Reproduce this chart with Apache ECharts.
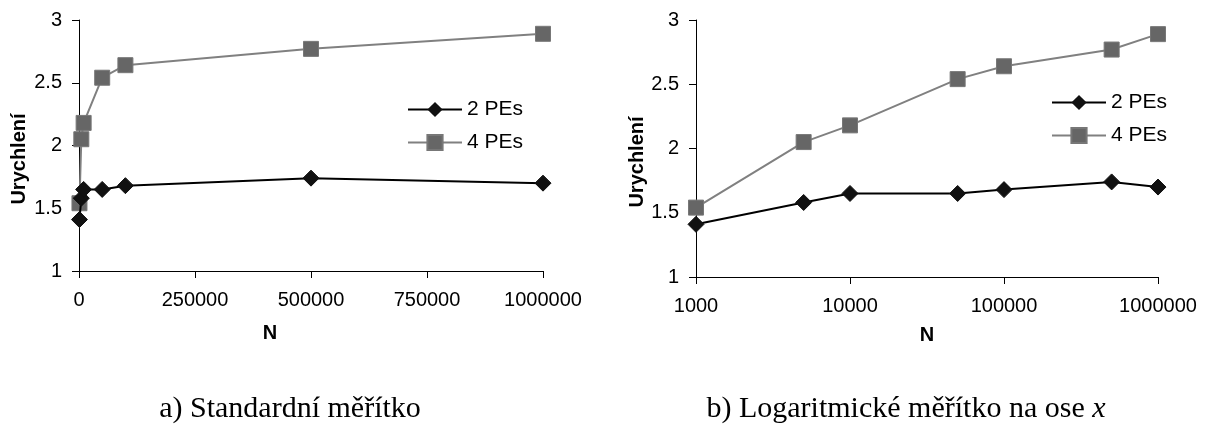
<!DOCTYPE html>
<html>
<head>
<meta charset="utf-8">
<script src="https://cdn.jsdelivr.net/npm/echarts@6/dist/echarts.min.js"></script>
<style>html,body{margin:0;padding:0;background:#fff}#c{width:1208px;height:425px}</style>
</head>
<body>
<div id="c"></div>
<script>
const N = [1000, 5000, 10000, 50000, 100000, 500000, 1000000];
const pe2 = [1.41, 1.58, 1.65, 1.65, 1.68, 1.74, 1.70];
const pe4 = [1.54, 2.05, 2.18, 2.54, 2.64, 2.77, 2.89];
const seriesNames = ['2 PEs', '4 PEs'];
const yTitle = 'Urychlení';
const xTitle = 'N';
const captionA = 'a) Standardní měřítko';
const captionB = 'b) Logaritmické měřítko na ose ';
const captionBVar = 'x';

const pairs = (ys) => N.map((n, i) => [n, ys[i]]);
const FONT = 'Liberation Sans, Arial, sans-serif';
const SERIF = 'Liberation Serif, Times New Roman, serif';
const axisLineStyle = { color: '#000', width: 1 };
const plain = (v) => String(v);

const yAxisCommon = (gap) => ({
  type: 'value', min: 1, max: 3, interval: 0.5,
  name: yTitle, nameLocation: 'middle', nameGap: gap,
  nameTextStyle: { fontFamily: FONT, fontSize: 20, fontWeight: 'bold', color: '#000', padding: [0, 27, 0, 0] },
  axisLine: { show: true, lineStyle: axisLineStyle },
  axisTick: { show: true, length: 7, lineStyle: axisLineStyle },
  axisLabel: { fontFamily: FONT, fontSize: 20, color: '#000', margin: 17, formatter: plain },
  splitLine: { show: false }
});

const s2 = (xi, yi) => ({
  name: seriesNames[0], type: 'line', xAxisIndex: xi, yAxisIndex: yi,
  data: pairs(pe2), symbol: 'diamond', symbolSize: [16, 16],
  lineStyle: { color: '#000', width: 2 },
  itemStyle: { color: '#111', borderColor: '#111' },
  z: 3
});
const s4 = (xi, yi) => ({
  name: seriesNames[1], type: 'line', xAxisIndex: xi, yAxisIndex: yi,
  data: pairs(pe4), symbol: 'rect', symbolSize: 15,
  lineStyle: { color: '#808080', width: 2 },
  itemStyle: { color: '#666', borderColor: '#777', borderWidth: 1 },
  z: 2
});

const legendCommon = {
  orient: 'vertical', itemWidth: 54, itemHeight: 19, itemGap: 12,
  textStyle: { fontFamily: FONT, fontSize: 21, color: '#000' },
  data: seriesNames, selectedMode: false
};

const option = {
  animation: false,
  backgroundColor: '#fff',
  grid: [
    { left: 79, top: 20, right: 665, bottom: 154 },
    { left: 696, top: 20, right: 50, bottom: 148 }
  ],
  xAxis: [
    {
      gridIndex: 0, type: 'value', min: 0, max: 1000000, interval: 250000,
      name: xTitle, nameLocation: 'middle', nameGap: 52,
      nameTextStyle: { fontFamily: FONT, fontSize: 20, fontWeight: 'bold', color: '#000', padding: [0, 82, 0, 0] },
      axisLine: { show: true, lineStyle: axisLineStyle },
      axisTick: { show: true, length: 7, lineStyle: axisLineStyle },
      axisLabel: { fontFamily: FONT, fontSize: 20, color: '#000', margin: 19, formatter: plain },
      splitLine: { show: false }
    },
    {
      gridIndex: 1, type: 'log', logBase: 10, min: 1000, max: 1000000,
      name: xTitle, nameLocation: 'middle', nameGap: 48,
      nameTextStyle: { fontFamily: FONT, fontSize: 20, fontWeight: 'bold', color: '#000' },
      axisLine: { show: true, lineStyle: axisLineStyle },
      axisTick: { show: true, length: 7, lineStyle: axisLineStyle },
      axisLabel: { fontFamily: FONT, fontSize: 20, color: '#000', margin: 19, formatter: plain },
      minorTick: { show: false },
      splitLine: { show: false }
    }
  ],
  yAxis: [
    Object.assign({ gridIndex: 0 }, yAxisCommon(50)),
    Object.assign({ gridIndex: 1 }, yAxisCommon(49))
  ],
  legend: [
    Object.assign({ left: 402, top: 94 }, legendCommon),
    Object.assign({ left: 1046, top: 87 }, legendCommon)
  ],
  title: [
    {
      text: captionA, left: 290, top: 394, textAlign: 'center', padding: 0,
      textStyle: { fontFamily: SERIF, fontSize: 30, fontWeight: 'normal', color: '#000' }
    },
    {
      text: '{n|' + captionB + '}{i|' + captionBVar + '}', left: 906, top: 394, textAlign: 'center', padding: 0,
      textStyle: {
        fontWeight: 'normal',
        rich: {
          n: { fontFamily: SERIF, fontSize: 30, fontWeight: 'normal', color: '#000' },
          i: { fontFamily: SERIF, fontSize: 30, fontWeight: 'normal', fontStyle: 'italic', color: '#000' }
        }
      }
    }
  ],
  series: [s2(0, 0), s4(0, 0), s2(1, 1), s4(1, 1)]
};

const chart = echarts.init(document.getElementById('c'), null, { renderer: 'canvas' });
chart.setOption(option);
</script>
</body>
</html>
